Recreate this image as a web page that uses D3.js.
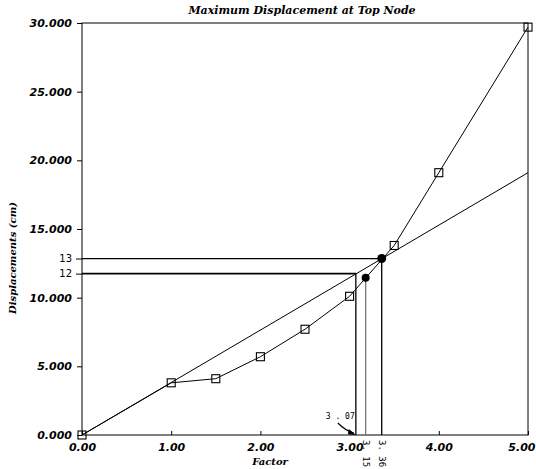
<!DOCTYPE html>
<html>
<head>
<meta charset="utf-8">
<script src="https://cdn.jsdelivr.net/npm/d3@7"></script>
<style>
  body { margin: 0; background: #fff; }
  .tick text { font-family: "DejaVu Sans", sans-serif; font-weight: bold; font-style: oblique; font-size: 11px; fill: #000; }
  .level .tick text { font-weight: normal; font-style: normal; font-size: 10px; }
  .axisTitle { font-family: "DejaVu Serif", serif; font-weight: bold; font-style: italic; font-size: 10px; }
  .mark { font-family: "DejaVu Sans Mono", monospace; font-size: 9px; }
</style>
</head>
<body>
<div class="visHolder"></div>
<script>
// data
const factor = [0, 1.0, 1.5, 2.0, 2.5, 3.0, 3.5, 4.0, 5.0];
const displacement = [0, 3.8, 4.1, 5.7, 7.7, 10.1, 13.8, 19.1, 29.7];
const linearX = [0, 5];
const linearY = [0, 19.1];
const xTicks = [0, 1, 2, 3, 4, 5];
const yTicks = [0, 5, 10, 15, 20, 25, 30];
const levelValues = [12.85, 11.75];
const levelLabels = ["13", "12"];
const levelEnds = [3.36, 3.07];
const markX = [3.07, 3.18, 3.36];
const markY = [11.75, 11.45, 12.85];
const markLabels = ["3.07", "3.15", "3.36"];

const width = 536,
  height = 469,
  padLeft = 82,
  padRight = 528,
  padTop = 23,
  padBottom = 435;

const svg = d3
  .select(".visHolder")
  .append("svg")
  .attr("width", width)
  .attr("height", height);

const xScale = d3.scaleLinear().domain([0, 5]).range([padLeft, padRight]);
const yScale = d3.scaleLinear().domain([0, 30]).range([padBottom, padTop]);

// frame
svg
  .append("rect")
  .attr("x", padLeft)
  .attr("y", padTop)
  .attr("width", padRight - padLeft)
  .attr("height", padBottom - padTop)
  .attr("fill", "none")
  .attr("stroke", "#000")
  .attr("stroke-width", 1);

const yAxis = d3
  .axisLeft(yScale)
  .tickValues(yTicks)
  .tickFormat(d3.format(".3f"))
  .tickSize(5)
  .tickSizeOuter(0)
  .tickPadding(5);

svg
  .append("g")
  .attr("transform", "translate(" + padLeft + ",0)")
  .call(yAxis)
  .call((g) => g.select(".domain").remove());

const xAxis = d3
  .axisBottom(xScale)
  .tickValues(xTicks)
  .tickFormat(d3.format(".2f"))
  .tickSize(-4)
  .tickSizeOuter(0)
  .tickPadding(8);

svg
  .append("g")
  .attr("transform", "translate(0," + padBottom + ")")
  .call(xAxis)
  .call((g) => g.select(".domain").remove())
  .call((g) =>
    g
      .selectAll(".tick:last-of-type text")
      .attr("text-anchor", "end")
      .attr("x", 7)
  );

// 12 / 13 level labels
const levelAxis = d3
  .axisLeft(yScale)
  .tickValues(levelValues)
  .tickFormat((d, i) => levelLabels[i])
  .tickSize(6)
  .tickSizeOuter(0)
  .tickPadding(4);

svg
  .append("g")
  .attr("class", "level")
  .attr("transform", "translate(" + padLeft + ",0)")
  .call(levelAxis)
  .call((g) => g.select(".domain").remove());

// level lines
svg
  .selectAll(".hline")
  .data(levelValues)
  .enter()
  .append("line")
  .attr("class", "hline")
  .attr("x1", xScale(0))
  .attr("x2", (d, i) => xScale(levelEnds[i]))
  .attr("y1", (d) => yScale(d))
  .attr("y2", (d) => yScale(d))
  .attr("stroke", "#000")
  .attr("stroke-width", (d, i) => (i === 1 ? 1.6 : 1.2));

// vertical drops
svg
  .selectAll(".vline")
  .data(markX)
  .enter()
  .append("line")
  .attr("class", "vline")
  .attr("x1", (d) => xScale(d))
  .attr("x2", (d) => xScale(d))
  .attr("y1", yScale(0))
  .attr("y2", (d, i) => yScale(markY[i]))
  .attr("stroke", (d, i) => (i === 1 ? "#777" : "#000"))
  .attr("stroke-width", 1.3);

// linear line
const line = d3
  .line()
  .x((d) => xScale(d[0]))
  .y((d) => yScale(d[1]));

svg
  .append("path")
  .attr("d", line(linearX.map((x, i) => [x, linearY[i]])))
  .attr("fill", "none")
  .attr("stroke", "#000")
  .attr("stroke-width", 1);

// nonlinear curve
const pts = factor.map((x, i) => [x, displacement[i]]);
svg
  .append("path")
  .attr("d", line(pts))
  .attr("fill", "none")
  .attr("stroke", "#000")
  .attr("stroke-width", 1);

svg
  .selectAll(".sq")
  .data(pts)
  .enter()
  .append("rect")
  .attr("class", "sq")
  .attr("x", (d) => xScale(d[0]) - 4)
  .attr("y", (d) => yScale(d[1]) - 4)
  .attr("width", 8)
  .attr("height", 8)
  .attr("fill", "none")
  .attr("stroke", "#000")
  .attr("stroke-width", 1.1);

// filled points on the curves
svg
  .selectAll(".dot")
  .data(markX.slice(1))
  .enter()
  .append("circle")
  .attr("class", "dot")
  .attr("cx", (d) => xScale(d))
  .attr("cy", (d, i) => yScale(markY[i + 1]))
  .attr("r", (d, i) => (i === 1 ? 4.5 : 4))
  .attr("fill", "#000");

// 3.07 callout with arrow
const x307 = xScale(markX[0]);
svg
  .append("text")
  .attr("class", "mark")
  .attr("x", x307 - 30)
  .attr("y", padBottom - 16)
  .style("font-size", "8px")
  .text("3 . 07");

svg
  .append("path")
  .attr(
    "d",
    "M" + (x307 - 18) + "," + (padBottom - 12) +
      " Q" + (x307 - 10) + "," + (padBottom - 4) + " " + (x307 - 2) + "," + (padBottom - 2)
  )
  .attr("fill", "none")
  .attr("stroke", "#000")
  .attr("stroke-width", 1.2);

svg
  .append("path")
  .attr(
    "d",
    "M" + x307 + "," + padBottom +
      " L" + (x307 - 7) + "," + (padBottom - 6) +
      " L" + (x307 - 8) + "," + (padBottom - 1) + "Z"
  )
  .attr("fill", "#000");

// rotated 3.15 / 3.36 labels
svg
  .selectAll(".rlabel")
  .data(markX.slice(1))
  .enter()
  .append("text")
  .attr("class", "mark")
  .attr("transform", (d) => "translate(" + (xScale(d) - 3) + "," + (padBottom + 5) + ") rotate(90)")
  .text((d, i) => markLabels[i + 1].replace(".", ". "));

// titles
svg
  .append("text")
  .attr("class", "axisTitle")
  .attr("x", 302)
  .attr("y", 14)
  .style("font-size", "11px")
  .attr("text-anchor", "middle")
  .text("Maximum Displacement at Top Node");

svg
  .append("text")
  .attr("class", "axisTitle")
  .attr("x", 270)
  .attr("y", 465)
  .attr("text-anchor", "middle")
  .text("Factor");

svg
  .append("text")
  .attr("class", "axisTitle")
  .attr("transform", "translate(16,258) rotate(-90)")
  .attr("text-anchor", "middle")
  .text("Displacements (cm)");
</script>
</body>
</html>
